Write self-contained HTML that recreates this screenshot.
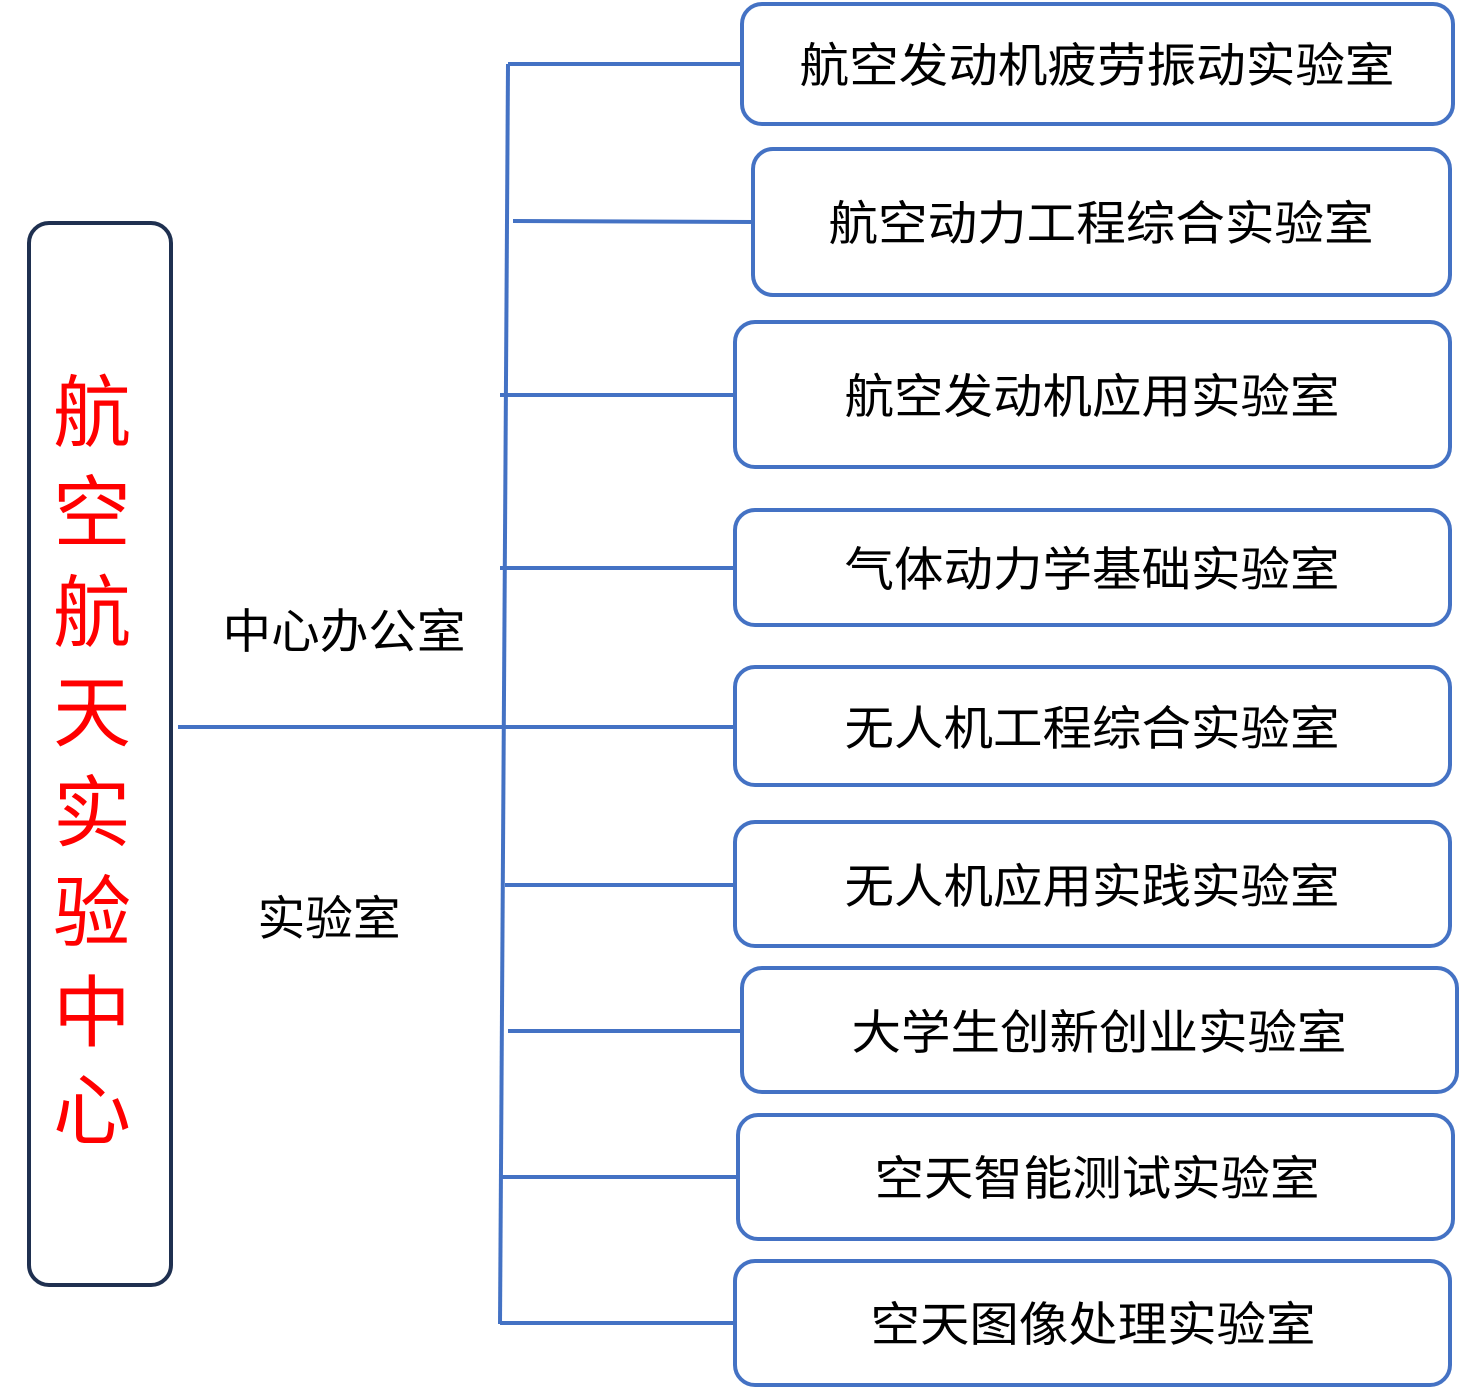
<!DOCTYPE html>
<html><head><meta charset="utf-8"><style>
html,body{margin:0;padding:0;background:#fff;}
svg{display:block}
text{font-family:"Liberation Sans","Noto Sans CJK SC",sans-serif;}
</style></head><body>
<svg width="1461" height="1388" viewBox="0 0 1461 1388" xmlns="http://www.w3.org/2000/svg">
<rect x="29" y="223" width="142" height="1062" rx="20" fill="#fff" stroke="#1F3050" stroke-width="4"/>
<g fill="#FF0000" font-size="78" text-anchor="middle">
<text x="92" y="440">航</text><text x="92" y="540">空</text><text x="92" y="640">航</text><text x="92" y="740">天</text><text x="92" y="840">实</text><text x="92" y="940">验</text><text x="92" y="1040">中</text><text x="92" y="1138">心</text>
</g>
<g stroke="#4472C4" stroke-width="4" fill="none">
<line x1="508" y1="64" x2="500" y2="1324"/>
<line x1="508" y1="64" x2="742" y2="64"/>
<line x1="513" y1="221" x2="753" y2="222"/>
<line x1="500" y1="395" x2="735" y2="395"/>
<line x1="500" y1="568" x2="735" y2="568"/>
<line x1="178" y1="727" x2="735" y2="727"/>
<line x1="505" y1="885" x2="735" y2="885"/>
<line x1="508" y1="1031" x2="742" y2="1031"/>
<line x1="502" y1="1177" x2="738" y2="1177"/>
<line x1="500" y1="1323" x2="735" y2="1323"/>
<rect x="742" y="4" width="711" height="120" rx="20"/>
<rect x="753" y="149" width="697" height="146" rx="20"/>
<rect x="735" y="322" width="715" height="145" rx="20"/>
<rect x="735" y="510" width="715" height="115" rx="20"/>
<rect x="735" y="667" width="715" height="118" rx="20"/>
<rect x="735" y="822" width="715" height="124" rx="20"/>
<rect x="742" y="968" width="715" height="124" rx="20"/>
<rect x="738" y="1115" width="715" height="124" rx="20"/>
<rect x="735" y="1261" width="715" height="124" rx="20"/>
</g>
<g fill="#000" font-size="47" text-anchor="middle">
<text x="1097" y="82" textLength="595" lengthAdjust="spacingAndGlyphs">航空发动机疲劳振动实验室</text>
<text x="1101" y="240" textLength="545" lengthAdjust="spacingAndGlyphs">航空动力工程综合实验室</text>
<text x="1092" y="413" textLength="495" lengthAdjust="spacingAndGlyphs">航空发动机应用实验室</text>
<text x="1092" y="586" textLength="495" lengthAdjust="spacingAndGlyphs">气体动力学基础实验室</text>
<text x="1092" y="745" textLength="495" lengthAdjust="spacingAndGlyphs">无人机工程综合实验室</text>
<text x="1092" y="903" textLength="495" lengthAdjust="spacingAndGlyphs">无人机应用实践实验室</text>
<text x="1099" y="1049" textLength="495" lengthAdjust="spacingAndGlyphs">大学生创新创业实验室</text>
<text x="1097" y="1195" textLength="445" lengthAdjust="spacingAndGlyphs">空天智能测试实验室</text>
<text x="1093" y="1341" textLength="445" lengthAdjust="spacingAndGlyphs">空天图像处理实验室</text>
<text x="344" y="648" textLength="243" lengthAdjust="spacingAndGlyphs">中心办公室</text>
<text x="329" y="935" textLength="143" lengthAdjust="spacingAndGlyphs">实验室</text>
</g>
</svg>
</body></html>
